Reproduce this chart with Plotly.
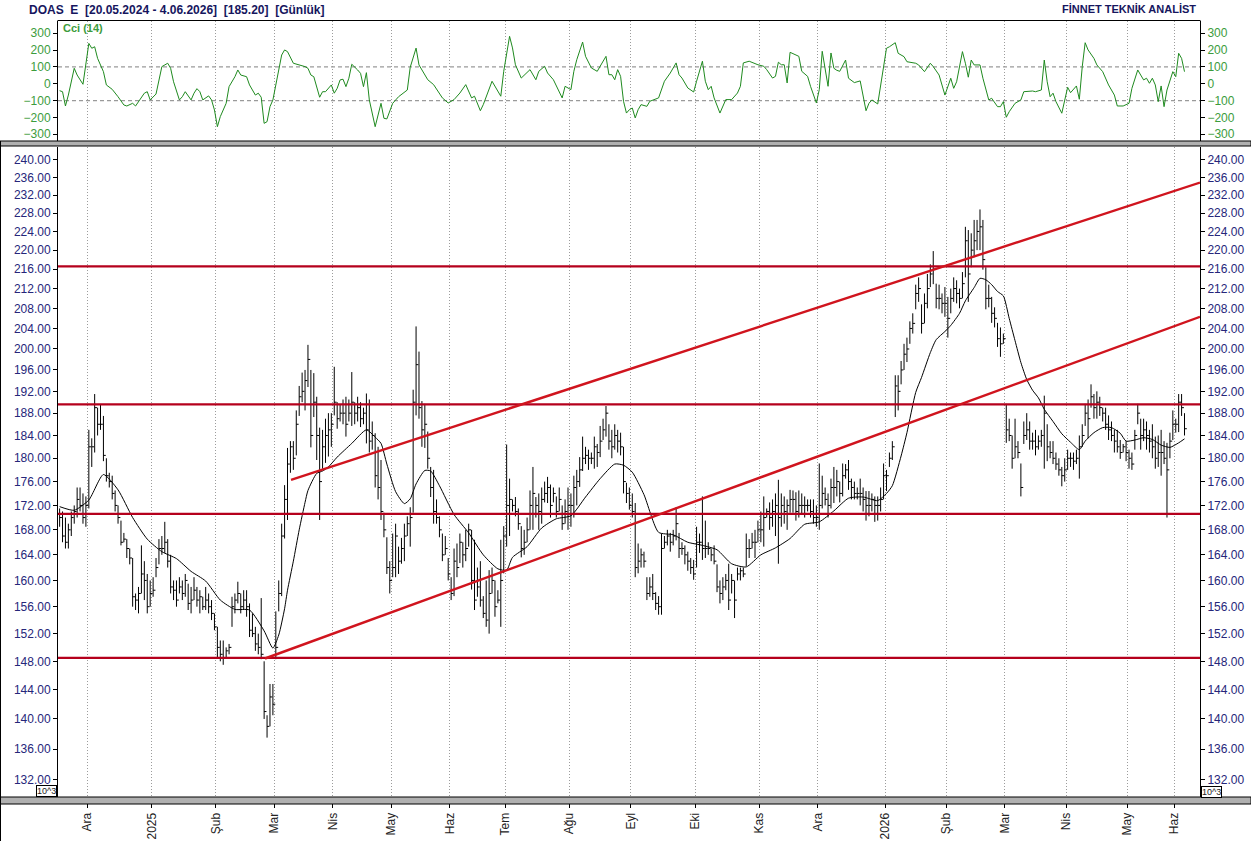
import math
import plotly.graph_objects as go

W, H = 1251, 841
FONT = "Liberation Sans, Arial, sans-serif"

# ---------------- data ----------------
month_labels = ["Ara", "2025", "Şub", "Mar", "Nis", "May", "Haz", "Tem", "Ağu", "Eyl",
                "Eki", "Kas", "Ara", "2026", "Şub", "Mar", "Nis", "May", "Haz"]
month_start = [10, 32, 54, 74, 94, 114, 134, 153, 175, 196, 218, 240, 260, 283, 304, 324, 345, 366, 382]

high = [
    171.5, 171, 170, 169, 171, 172, 175, 175, 174, 173.5,
    185, 183.5, 191.5, 189, 189.5, 187.5, 180, 177.5, 177, 174.5, 172, 169.5, 167.5, 166.5, 165, 163.5, 158, 159, 165.5, 163, 161, 160,
    160.5, 163.5, 166.5, 167, 169.3, 166.5, 164, 160, 160, 160.5, 160, 161, 159.5, 159, 160.5, 159, 158.5, 157.5, 159, 158, 157, 155,
    153, 151, 151, 150, 150.5, 157.5, 158, 159.8, 158, 158.5, 158.5, 156.5, 155, 153, 152, 157.3, 148, 140.5, 144.8, 144.8,
    155.3, 160, 169, 175.4, 181.8, 183, 183, 188.5, 193, 195.5, 196, 200.8, 196, 195.4, 191, 185.4, 185, 187, 188, 188,
    196.6, 190, 189.5, 190.5, 191, 190.5, 195.6, 190, 191, 190, 189, 191.6, 190.5, 186.5, 184.4, 182, 179.7, 170.8, 166.8, 163,
    167.4, 169, 165.3, 166.7, 169, 170.2, 171.7, 192.3, 204.4, 199.5, 190.2, 189.7, 184.7, 178.5, 178, 173, 170.2, 167.4, 167, 163.5,
    160.5, 165, 165.8, 167.4, 166, 168, 169, 168, 166.4, 162, 163, 157.6, 160, 161.6, 162, 160, 158.5, 166.4, 168.6,
    182.4, 176.5, 173, 173.4, 171.5, 168.6, 168, 170, 174.5, 178.5, 173.4, 174, 175, 176, 176.8, 175.5, 175, 173.5, 175, 172, 173, 175,
    174, 177, 178, 180.2, 183.8, 182, 181.5, 181, 183.8, 182.5, 185.7, 187, 189.3, 186, 185, 186, 185, 184.5, 182, 175.8, 175,
    174, 172.4, 165.8, 165, 164.5, 160.5, 160.5, 161, 158.2, 157.6, 167.4, 167, 168, 167.5, 168, 171.7, 167.5, 166, 165.5, 164.5, 163.5, 163.2,
    168.5, 167.4, 173.5, 169.5, 166, 165, 165.5, 162.5, 160, 160.5, 161, 162.6, 161, 160, 162, 162, 162, 167.4, 166.5, 167.5, 168, 169.5,
    171, 173.5, 171.5, 172.5, 173, 174, 176.3, 174, 173.5, 173, 174.6, 174.5, 174.2, 174.5, 174, 173.5, 173, 173, 173, 172,
    179.1, 177, 175, 174, 176.5, 178.5, 178, 176, 179.1, 179, 179.7, 176.5, 176, 175, 176.5, 175, 174.4, 174.4, 174, 173.5, 173.5, 175, 179.1,
    178, 181, 183, 195, 195, 197.7, 201, 202.2, 205.4, 207, 212.8, 214.3, 208.8, 211, 215, 217, 219.8, 213, 212.8, 211, 212.3,
    210.3, 212, 214.3, 213.7, 212, 215.4, 225, 224.3, 223.6, 226.5, 226.5, 228.8, 226.5, 216.4, 212.8, 210.3, 208.2, 205.1, 204.2, 203,
    189.7, 187, 184, 187, 183, 179.1, 186.5, 188, 186.5, 184.5, 185, 184, 185, 191.2, 186, 183, 183, 181, 180, 178.5, 180,
    181.5, 181, 181, 181.5, 184, 186, 189.7, 190.5, 193.3, 191.5, 192, 191, 189, 189, 187.6, 186.5, 185, 185, 183.2, 182.5, 183,
    181.5, 181, 185, 189.7, 187, 187, 186.5, 185, 186, 183.8, 184, 185, 183, 182.7, 184.5, 188.5,
    187, 191.5, 191.5, 188,
]

low = [
    168.5, 166, 165, 165, 167, 169, 170, 171, 169, 168.5,
    171.5, 178.5, 181, 184, 185, 179.5, 176, 175, 173, 171, 169, 165.5, 166, 163.5, 162.5, 156, 155.5, 155, 158, 157, 155, 156,
    157.5, 160.5, 162.5, 164, 164.3, 162, 158, 157, 156, 158, 157, 157.5, 155.5, 155, 157, 156, 155, 155.5, 155.5, 155, 154, 152.5,
    148.5, 148, 147.5, 148.5, 149, 153, 155, 156.5, 155, 155.5, 154.5, 151.5, 151.5, 149.5, 149, 148.3, 140, 137.5, 139, 140.5,
    148.3, 155.3, 157.6, 166.6, 169.6, 177.5, 178, 180.5, 187.5, 190, 188.5, 192.8, 181.9, 187.3, 179.7, 169.6, 178.2, 179.2, 180.3, 182,
    187.6, 185.2, 186.5, 186, 183.8, 186.5, 185.7, 186, 186.5, 185.5, 186, 182.6, 181, 181.5, 175, 173, 169.6, 166.8, 161, 158,
    160.5, 160.5, 161, 162.6, 163, 167, 165.3, 170.8, 187.6, 187, 182, 181.8, 178.2, 173.4, 169, 169, 166.8, 163, 164, 160,
    157, 157.6, 160.5, 162.7, 162, 163, 165.3, 158.6, 155.5, 157.5, 156, 154.3, 153, 152, 158, 154.5, 156.5, 153, 161.1,
    165.3, 167, 171, 170.2, 168, 163.6, 164, 166, 168, 168, 170, 168, 169, 172.5, 172.4, 170, 172.5, 170, 171, 168, 169, 168,
    168.5, 170, 172, 175.1, 177.8, 179, 178, 179, 178.2, 178.5, 180.2, 183.2, 183.8, 181.5, 180, 181.5, 181, 180.5, 174, 172.4, 171.3,
    170, 160.5, 161.1, 162, 162, 157, 157.5, 157, 155.5, 154.8, 154.8, 165, 165.5, 164.5, 165.5, 166.3, 163.5, 164, 162.5, 161.5, 161, 160.1,
    162, 164.3, 163.2, 163.5, 164, 163, 162.5, 158.2, 156.5, 157, 158.5, 155.5, 158, 154.3, 160, 160, 160.5, 162.2, 163.5, 165, 163.5, 166,
    166, 165.3, 170, 168, 168.5, 167, 162.6, 168.5, 169, 168, 170.8, 170.8, 169.5, 170, 170.5, 170, 171, 170, 169, 168.5,
    168, 171.5, 172, 170, 171.5, 172.4, 173.5, 172.5, 173.5, 176.5, 174.6, 173, 173, 173, 172, 171, 169.5, 170.2, 171, 169.3, 169.5, 171, 173,
    174.4, 178.5, 179.7, 187.3, 188.5, 193.3, 196, 197.5, 201, 203, 207.8, 209.3, 203, 205, 208, 212.3, 212.9, 208, 207.8, 207, 206.3,
    202.2, 207, 209.3, 209, 208, 210, 214.3, 209.3, 216.4, 218.5, 220, 220, 215.9, 207.8, 208.2, 205.1, 204.2, 200.4, 198.5, 201,
    182.7, 183, 178.2, 180, 180, 173.5, 182.5, 183.2, 181.5, 181.5, 180.5, 181.5, 182, 178.2, 179.5, 180, 179, 178, 177, 175.2, 176,
    178, 178.5, 178, 179, 176.5, 182, 185.7, 183.5, 189, 187, 187, 187.5, 186.5, 185, 183.2, 183, 181, 181, 179.9, 181, 179.5,
    178.2, 178, 181.5, 186, 181.5, 183, 181.5, 181, 180, 178.2, 178.5, 177, 179, 170, 180, 183.2,
    184.5, 184.6, 187.5, 184,
]

close = [
    170, 167, 166, 168, 170, 171, 173, 172, 170, 172,
    182, 182, 189, 186, 186, 180.5, 177, 176, 174, 172, 170, 166, 166.5, 165, 163.5, 157.5, 157, 158, 161, 160, 156, 158,
    158.5, 162, 165, 165, 166, 163, 159, 158.5, 157, 159, 158, 160, 156.5, 157, 158.5, 157, 157.5, 156, 157, 156, 155, 153,
    150, 149, 148.5, 149.5, 150, 156, 157, 158, 156, 157, 156, 152.5, 152, 150.5, 150, 149, 141, 139, 143, 142,
    150, 158, 167, 173, 179, 182, 180, 186, 191, 192, 194, 198, 184, 190, 184, 176, 182, 184, 185, 186,
    190, 187, 188, 188, 186, 188, 190, 188, 189, 187, 188, 185, 183, 184, 177, 175, 171, 168, 162, 160,
    162, 167, 163, 165, 167, 169, 170, 190, 197, 189, 185, 186, 180, 175, 171, 170, 168, 164, 165, 161,
    158, 163, 162, 166, 164, 165, 168, 160, 157, 159, 157, 155, 154, 158, 160, 156, 157, 160, 167,
    172, 173, 172, 171, 169, 165, 166, 168, 172, 174, 172, 171, 173, 174, 175, 172, 174, 171, 173, 169, 171, 172,
    172, 175, 176, 178, 180, 180.5, 180, 180, 182, 181, 183, 185, 188, 183, 182, 184, 183, 182, 176, 174, 172,
    171, 162, 163, 164, 163, 158, 159, 158, 156.5, 156, 165, 166, 167, 166, 167, 169, 165, 165, 164, 163, 162, 161,
    166, 166, 165, 165, 165, 164, 163, 159, 158, 159, 160, 157, 160, 157, 161, 161.5, 161, 165, 165, 166, 166, 168,
    168, 170, 171, 170, 171, 172, 170, 172, 171, 172, 173, 173, 171, 172, 172, 172, 172, 171, 170, 170,
    172, 174, 173, 172, 175, 175, 176, 174, 177, 178, 176, 175, 174, 174, 174, 173, 172, 172, 173, 172, 172, 173, 177,
    177, 180, 182, 193, 192, 196, 199, 200, 204, 205, 211, 212, 205, 209, 212, 215, 216, 210, 210, 209, 209,
    206, 210, 212, 211, 210, 213, 222, 215, 220, 222, 224, 225, 218, 210, 210, 207, 206, 202, 201, 202,
    185, 184, 180, 182, 181, 175, 184, 185, 183, 183, 182, 183, 184, 188, 182, 181, 180, 179, 178, 177, 178,
    180, 180, 179.5, 180, 182, 184, 188, 187, 191, 189, 190, 189, 188, 186, 185, 184, 183, 182, 181, 182, 181,
    180, 179, 184, 188, 184, 185, 184, 183, 182, 180, 181, 181, 180, 178, 183, 186,
    186, 190, 189, 185.2,
]

# moving average (black line), read at sampled bars
ma_idx = [0, 5, 10, 15, 20, 25, 30, 35, 40, 45, 50, 55, 60, 65, 70, 73, 75, 77, 78, 80, 82, 84, 85, 88, 90,
          92, 95, 100, 105, 108, 110, 112, 115, 118, 120, 122, 125, 127, 130, 135, 140, 145, 150, 153, 155,
          160, 165, 170, 175, 180, 185, 190, 193, 196, 200, 205, 210, 215, 220, 225, 230, 235, 240, 245, 250,
          255, 260, 265, 270, 275, 280, 283, 285, 288, 290, 293, 295, 298, 300, 303, 305, 308, 310, 313, 315,
          317, 319, 321, 323, 325, 327, 329, 331, 333, 335, 337, 340, 343, 346, 349, 351, 354, 357, 360, 363,
          365, 368, 371, 374, 377, 380, 383, 385]
ma_val = [171.8, 171.2, 172.9, 177.2, 174.6, 170.0, 166.5, 164.5, 163.4, 161.4, 159.9, 157.0, 155.6, 155.5, 152.4,
          149.9, 151.8, 155.7, 158.5, 163.0, 168.0, 172.5, 174.5, 177.4, 177.8,
          178.5, 180.2, 182.6, 185.0, 183.7, 182.6, 179.0, 174.3, 172.3, 173.1, 175.6, 177.9, 177.8, 175.3, 170.5,
          167.5, 164.0, 161.8, 161.6, 163.6,
          165.3, 168.3, 169.8, 170.3, 173.4, 176.5, 179.0, 178.8, 177.6, 173.8, 167.6, 167.2, 166.0, 165.5, 164.8,
          162.6, 162.1, 164.0, 165.1, 166.6,
          168.9, 169.3, 171.1, 173.2, 173.4, 172.8, 174.0, 175.3, 180.4, 184.5, 191.8, 194.6, 199.3, 201.8, 203.4,
          204.6, 207.0, 209.5, 212.2, 214.1,
          213.8, 212.8, 211.4, 210.5, 206.0, 201.6, 197.4, 194.2, 192.2, 190.8, 188.7, 186.5, 184.3, 182.8, 181.5,
          183.0, 184.5, 185.4, 185.4, 184.4,
          183.0, 183.2, 183.6, 183.3, 182.3, 181.9, 182.7, 183.4]

# CCI (14), read at its turning points
cci_idx = [0, 1, 2, 3, 5, 6, 8, 9, 10, 11, 12, 13, 15, 16, 18, 20, 22, 23, 25, 26, 27, 29, 30, 31, 33, 34, 35,
           37, 38, 39, 41, 42, 43, 45, 46, 47, 48, 49, 51, 52, 53, 54, 55, 57, 58, 60, 61, 62, 64, 65, 67, 68,
           69, 70, 71, 72, 73, 75, 76, 77, 78, 80, 82, 84, 85, 86, 87, 88, 89, 90, 91, 93, 94, 95, 96, 97, 98,
           99, 100, 102, 103, 104, 105, 106, 108, 110, 111, 112, 114, 116, 119, 120, 122, 123, 126, 128, 131,
           133, 135, 137, 139, 141, 142, 144, 145, 148, 150, 151, 152, 154, 155, 156, 158, 160, 161, 163, 164,
           166, 167, 169, 172, 173, 175, 176, 177, 179, 180, 182, 184, 185, 187, 188, 189, 190, 191, 192, 193,
           194, 195, 196, 197, 198, 199, 201, 202, 205, 207, 209, 211, 212, 213, 215, 217, 218, 220, 221, 222,
           223, 224, 226, 228, 230, 232, 233, 234, 236, 239, 241, 242, 244, 245, 246, 247, 248, 249, 250, 253,
           254, 256, 257, 259, 260, 261, 263, 264, 265, 266, 267, 269, 270, 272, 274, 276, 277, 278, 280, 281,
           283, 284, 286, 287, 289, 290, 293, 294, 296, 298, 299, 301, 302, 303, 305, 306, 307, 309, 310, 311,
           312, 313, 315, 316, 318, 319, 321, 322, 323, 324, 325, 327, 329, 330, 333, 334, 336, 337, 338, 339,
           340, 341, 343, 345, 346, 348, 349, 350, 351, 352, 354, 355, 357, 359, 361, 362, 364, 366, 367, 369,
           370, 371, 372, 373, 374, 375, 376, 377, 378, 379, 381, 382, 383, 384, 385]
cci_val = [-41, -47, -132, -67, 92, 52, -3, 112, 240, 211, 220, 151, 72, -7, -33, -77, -126, -132, -116, -132,
           -106, -56, -47, -96, -61, 23, 102,
           122, 92, 12, -96, -77, -47, -96, -56, -29, -47, -96, -72, -96, -156, -255, -195, -116, -17, 42, 82, 52,
           42, -7, -67, -56,
           -80, -235, -225, -136, -96, 82, 171, 201, 191, 122, 112, 102, 92, 52, 42, -27, -80, -47, -47, -7, -56,
           -27, 23, 27, -17,
           33, 116, 82, 62, -17, 66, -96, -255, -116, -205, -209, -116, -77, -37, 98, 212, 112, 24, -5, -84,
           -114, -94, -55, -5, -84, -74, -160, -124, 15, -45, -74, 74, 282, 213, 113, 34, 64, 84, 24, 74,
           104, 64, 24, -84, -15, -35, 74, 143, 248, 163, 94, 74, 104, 163, 54, 54, 24, 84, 44, -104,
           -174, -154, -144, -203, -154, -124, -134, -104, -84, 15, 64, 124, 54, 34, -25, -49, 15, 134, 15, -35,
           -15, -84, -174, -94, -94, -55, -15, 124, 134, 113, 104, 84, 34, 44, 128, 113, 113, 5, 187, 163,
           74, 44, -15, -114, -35, 193, -15, 183, 92, 80, 74, 141, 33, 7, 17, -160, -116, -96, -120, -7,
           211, 220, 244, 181, 161, 131, 122, 112, 72, 122, 102, 52, -7, -67, 33, -27, 12, 191, 122, 39,
           141, 112, 112, 33, -96, -86, -136, -136, -106, -199, -166, -116, -96, -47, -43, -47, -37, 141, 12, -77,
           -56, -106, -175, -21, -53, -13, -92, 102, 244, 201, 151, 112, 72, -7, -67, -132, -132, -116, -27, 82,
           52, 23, 33, 3, 33, -7, -106, -13, -136, -37, 72, 42, 181, 151, 72]

cci_levels = [100, -100]
cci_ticks = [-300, -200, -100, 0, 100, 200, 300]

# support / resistance levels and channel lines
h_levels = [216.6, 189.6, 170.6, 148.5]
trend_lower_x = [70.3, 390.3]
trend_lower_y = [148.4, 206.3]
trend_upper_x = [79.2, 390.3]
trend_upper_y = [176.3, 234.8]

price_ticks = [132, 136, 140, 144, 148, 152, 156, 160, 164, 168, 172, 176, 180, 184, 188, 192, 196,
               200, 204, 208, 212, 216, 220, 224, 228, 232, 236, 240]

X_RANGE = [-0.55, 390.3]
Y_RANGE = [math.log10(129.85), math.log10(243.0)]
CCI_RANGE = [-340, 373]


# ---------------- helpers for layout placement ----------------
def fx(px):
    return px / W


def fy(py):
    return 1 - py / H


X_DOM = [fx(58), fx(1200)]
PRICE_DOM = [fy(797), fy(147)]
CCI_DOM = [fy(141), fy(21)]

NAVY = "#26267a"
GREEN_TXT = "#3c9c3c"
GREEN_LINE = "#1f8a1f"

fig = go.Figure()

# HLC bars
bx, by = [], []
for i, (h, l, c) in enumerate(zip(high, low, close)):
    bx += [i, i, None, i, i + 0.8, None]
    by += [l, h, None, c, c, None]
fig.add_trace(go.Scatter(x=bx, y=by, mode="lines", line=dict(color="#000000", width=1),
                         xaxis="x", yaxis="y", hoverinfo="skip", connectgaps=False))

# moving average
fig.add_trace(go.Scatter(x=ma_idx, y=ma_val, mode="lines",
                         line=dict(color="#000000", width=1, shape="spline", smoothing=0.6),
                         xaxis="x", yaxis="y", hoverinfo="skip"))

# horizontal red levels
for lv in h_levels:
    fig.add_trace(go.Scatter(x=X_RANGE, y=[lv, lv], mode="lines",
                             line=dict(color="#b5001c", width=2.2),
                             xaxis="x", yaxis="y", hoverinfo="skip"))

# channel lines
fig.add_trace(go.Scatter(x=trend_lower_x, y=trend_lower_y, mode="lines",
                         line=dict(color="#d0141e", width=2.4), xaxis="x", yaxis="y", hoverinfo="skip"))
fig.add_trace(go.Scatter(x=trend_upper_x, y=trend_upper_y, mode="lines",
                         line=dict(color="#d0141e", width=2.4), xaxis="x", yaxis="y", hoverinfo="skip"))

# right-hand price axis carrier
fig.add_trace(go.Scatter(x=[0], y=[close[0]], mode="lines", xaxis="x", yaxis="y3",
                         hoverinfo="skip", line=dict(width=0)))

# CCI reference levels
for lv in cci_levels:
    fig.add_trace(go.Scatter(x=X_RANGE, y=[lv, lv], mode="lines",
                             line=dict(color="#9a9a9a", width=1.2, dash="4px,3px"),
                             xaxis="x2", yaxis="y2", hoverinfo="skip"))

# CCI line
fig.add_trace(go.Scatter(x=cci_idx, y=cci_val, mode="lines",
                         line=dict(color=GREEN_LINE, width=1),
                         xaxis="x2", yaxis="y2", hoverinfo="skip"))
fig.add_trace(go.Scatter(x=[0], y=[0], mode="lines", xaxis="x2", yaxis="y4",
                         hoverinfo="skip", line=dict(width=0)))

tickvals_x = [s - 0.5 for s in month_start]
grid_style = dict(showgrid=True, gridcolor="#9c9c9c", griddash="1px,2px", gridwidth=1)

price_text = [f"{v:.2f}" for v in price_ticks]
price_axis = dict(type="log", range=Y_RANGE, autorange=False, tickmode="array",
                  tickvals=price_ticks, ticktext=price_text, ticks="outside", ticklen=4,
                  tickcolor="#000000", tickfont=dict(family=FONT, size=12, color=NAVY),
                  showgrid=False, zeroline=False, showline=True, linecolor="#000000",
                  linewidth=1, fixedrange=True, automargin=False)
cci_axis = dict(range=CCI_RANGE, autorange=False, tickmode="array", tickvals=cci_ticks,
                ticks="outside", ticklen=4, tickcolor="#000000",
                tickfont=dict(family=FONT, size=12, color=GREEN_TXT),
                showgrid=False, zeroline=False, showline=True, linecolor="#000000",
                linewidth=1, fixedrange=True, automargin=False)

fig.update_layout(
    width=W, height=H,
    margin=dict(l=0, r=0, t=0, b=0, autoexpand=False),
    paper_bgcolor="#ffffff", plot_bgcolor="#ffffff",
    showlegend=False, hovermode=False,
    xaxis=dict(domain=X_DOM, anchor="y", range=X_RANGE, autorange=False, tickmode="array",
               tickvals=tickvals_x, ticktext=month_labels, tickangle=-90,
               ticks="outside", ticklen=10, tickcolor="#000000",
               tickfont=dict(family=FONT, size=12, color="#222222"),
               zeroline=False, showline=False, fixedrange=True, automargin=False, **grid_style),
    xaxis2=dict(domain=X_DOM, anchor="y2", matches="x", range=X_RANGE, tickmode="array",
                tickvals=tickvals_x, showticklabels=False, ticks="",
                zeroline=False, showline=False, fixedrange=True, automargin=False, **grid_style),
    yaxis=dict(domain=PRICE_DOM, anchor="x", side="left", **price_axis),
    yaxis3=dict(overlaying="y", anchor="x", side="right", **price_axis),
    yaxis2=dict(domain=CCI_DOM, anchor="x2", side="left", **cci_axis),
    yaxis4=dict(overlaying="y2", anchor="x2", side="right", **cci_axis),
)

# frame / separators (layout decoration)
shapes = [
    dict(type="line", xref="paper", yref="paper", x0=fx(57.5), x1=fx(1200.5), y0=fy(20.5), y1=fy(20.5),
         line=dict(color="#000000", width=1), layer="above"),
    dict(type="rect", xref="paper", yref="paper", x0=0, x1=1, y0=fy(146), y1=fy(141),
         fillcolor="#b0b0b0", line=dict(color="#000000", width=1), layer="above"),
    dict(type="rect", xref="paper", yref="paper", x0=0, x1=1, y0=fy(804), y1=fy(797),
         fillcolor="#b0b0b0", line=dict(color="#000000", width=1), layer="above"),
    dict(type="line", xref="paper", yref="paper", x0=fx(0.5), x1=fx(0.5), y0=0, y1=fy(141),
         line=dict(color="#000000", width=1), layer="above"),
]
fig.update_layout(shapes=shapes)

nb = "\u00a0"
title = f"DOAS{nb}{nb}E{nb}{nb}[20.05.2024 - 4.06.2026]{nb}{nb}[185.20]{nb}{nb}[Günlük]"
annotations = [
    dict(text=f"<b>{title}</b>", xref="paper", yref="paper", x=fx(27), y=fy(10),
         xanchor="left", yanchor="middle", showarrow=False,
         font=dict(family=FONT, size=12, color="#16165e")),
    dict(text="<b>FİNNET TEKNİK ANALİST</b>", xref="paper", yref="paper", x=fx(1198), y=fy(9),
         xanchor="right", yanchor="middle", showarrow=False,
         font=dict(family=FONT, size=11, color="#16165e")),
    dict(text="<b>Cci (14)</b>", xref="paper", yref="paper", x=fx(61), y=fy(27.5),
         xanchor="left", yanchor="middle", showarrow=False,
         font=dict(family=FONT, size=11, color=GREEN_TXT)),
    dict(text="10^3", xref="paper", yref="paper", x=fx(46), y=fy(791),
         xanchor="center", yanchor="middle", showarrow=False, bgcolor="#ffffff",
         bordercolor="#000000", borderwidth=1, borderpad=0,
         font=dict(family=FONT, size=9, color="#222222")),
    dict(text="10^3", xref="paper", yref="paper", x=fx(1211), y=fy(792),
         xanchor="center", yanchor="middle", showarrow=False, bgcolor="#ffffff",
         bordercolor="#000000", borderwidth=1, borderpad=0,
         font=dict(family=FONT, size=9, color="#222222")),
]
fig.update_layout(annotations=annotations)

fig.write_html("out.html")
